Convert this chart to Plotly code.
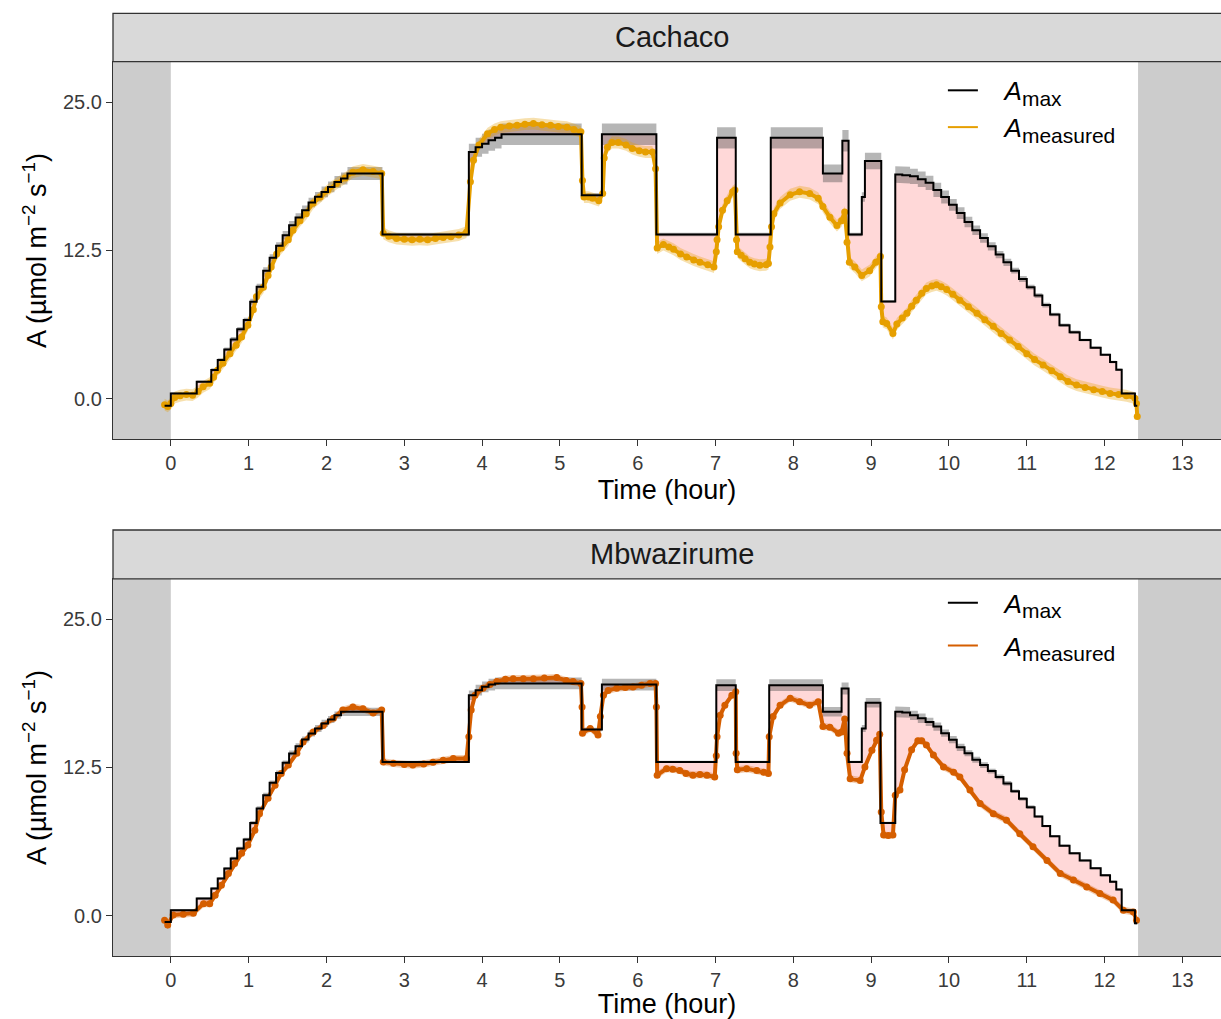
import plotly.graph_objects as go

# ---------------------------------------------------------------------------
# Cachaco: A_max as a step series (start time of each step, h), its spread,
# and the measured net assimilation A (µmol m-2 s-1)
# ---------------------------------------------------------------------------
cachaco_amax_t = [
    -0.08, 0.0, 0.333, 0.52, 0.603, 0.687, 0.77, 0.853, 0.937, 1.02,
    1.103, 1.187, 1.27, 1.353, 1.437, 1.52, 1.603, 1.687, 1.77, 1.853,
    1.937, 2.02, 2.103, 2.187, 2.27, 2.72, 3.83, 3.917, 4.0, 4.083,
    4.167, 4.25, 5.28, 5.54, 6.24, 7.02, 7.26, 7.71, 8.38, 8.63,
    8.71, 8.88, 8.92, 9.13, 9.31, 9.4, 9.5, 9.6, 9.7, 9.8,
    9.9, 10.0, 10.1, 10.2, 10.3, 10.4, 10.5, 10.6, 10.7, 10.8,
    10.9, 11.0, 11.1, 11.2, 11.3, 11.42, 11.55, 11.68, 11.82, 11.95,
    12.07, 12.15, 12.22, 12.39, 12.42,
]
cachaco_amax = [
    -0.6, 0.45, 1.43, 2.42, 3.26, 4.16, 5.0, 5.85, 6.63, 8.17,
    9.44, 10.78, 11.88, 12.89, 13.79, 14.63, 15.28, 15.89, 16.54, 17.02,
    17.44, 17.86, 18.28, 18.57, 18.99, 13.85, 20.8, 21.2, 21.5, 21.8,
    22.0, 22.3, 17.15, 22.3, 13.85, 22.0, 13.85, 22.0, 19.0, 21.75,
    13.85, 17.0, 20.05, 8.2, 18.9, 18.85, 18.75, 18.5, 18.2, 17.6,
    17.0, 16.35, 15.65, 14.9, 14.2, 13.55, 12.85, 12.15, 11.5, 10.8,
    10.1, 9.4, 8.7, 7.9, 7.1, 6.2, 5.6, 4.95, 4.3, 3.7,
    3.1, 2.45, 0.45, -0.6, -0.6,
]
cachaco_amax_sd = [
    0.1, 0.1, 0.1, 0.15, 0.15, 0.15, 0.2, 0.2, 0.2, 0.25,
    0.25, 0.3, 0.3, 0.3, 0.35, 0.35, 0.35, 0.4, 0.4, 0.4,
    0.45, 0.45, 0.5, 0.5, 0.55, 0.15, 0.7, 0.8, 0.85, 0.9,
    0.9, 0.9, 0.2, 0.9, 0.15, 0.9, 0.15, 0.9, 0.75, 0.9,
    0.15, 0.4, 0.7, 0.1, 0.7, 0.7, 0.65, 0.65, 0.6, 0.6,
    0.55, 0.5, 0.5, 0.45, 0.4, 0.4, 0.35, 0.3, 0.3, 0.25,
    0.25, 0.2, 0.2, 0.2, 0.15, 0.15, 0.15, 0.1, 0.1, 0.1,
    0.1, 0.1, 0.1, 0.1, 0.1,
]
cachaco_meas_t = [
    -0.08, -0.04, 0.0, 0.05, 0.12, 0.2, 0.28, 0.35, 0.415, 0.5,
    0.55, 0.6, 0.67, 0.76, 0.84, 0.91, 0.99, 1.06, 1.1, 1.19,
    1.25, 1.29, 1.36, 1.42, 1.51, 1.57, 1.66, 1.74, 1.83, 1.92,
    2.02, 2.13, 2.24, 2.34, 2.47, 2.6, 2.71, 2.73, 2.8, 2.9,
    3.0, 3.1, 3.2, 3.3, 3.4, 3.5, 3.6, 3.7, 3.8, 3.85,
    3.89, 3.96, 4.07, 4.16, 4.24, 4.35, 4.45, 4.55, 4.66, 4.77,
    4.88, 4.98, 5.09, 5.18, 5.27, 5.29, 5.31, 5.37, 5.42, 5.5,
    5.55, 5.57, 5.61, 5.67, 5.75, 5.85, 5.93, 6.02, 6.1, 6.19,
    6.23, 6.25, 6.33, 6.4, 6.46, 6.55, 6.63, 6.72, 6.8, 6.9,
    6.98, 7.01, 7.02, 7.04, 7.09, 7.15, 7.22, 7.25, 7.27, 7.28,
    7.33, 7.38, 7.44, 7.5, 7.57, 7.65, 7.68, 7.7, 7.72, 7.75,
    7.83, 7.96, 8.08, 8.21, 8.32, 8.38, 8.47, 8.56, 8.62, 8.66,
    8.69, 8.72, 8.79, 8.88, 8.98, 9.06, 9.12, 9.13, 9.15, 9.2,
    9.28, 9.33, 9.4, 9.46, 9.52, 9.58, 9.65, 9.71, 9.78, 9.84,
    9.9, 9.97, 10.05, 10.14, 10.25, 10.36, 10.46, 10.57, 10.67, 10.78,
    10.89, 11.0, 11.1, 11.21, 11.32, 11.43, 11.53, 11.64, 11.75, 11.86,
    11.97, 12.07, 12.18, 12.28, 12.39, 12.41, 12.42,
]
cachaco_meas = [
    -0.5, -0.65, -0.4, 0.1, 0.25, 0.35, 0.3, 0.6, 1.0, 1.3,
    1.8, 2.4, 3.0, 3.8, 4.5, 5.2, 6.2, 7.5, 8.6, 9.4,
    10.4, 11.1, 12.2, 12.7, 13.4, 14.2, 15.0, 15.6, 16.5, 17.0,
    17.6, 18.15, 18.6, 19.1, 19.3, 19.15, 19.0, 13.95, 13.7, 13.5,
    13.45, 13.4, 13.45, 13.4, 13.5, 13.6, 13.65, 13.8, 14.05, 18.3,
    20.1, 21.4, 22.35, 22.7, 22.9, 23.0, 23.05, 23.15, 23.2, 23.1,
    23.05, 22.95, 22.9, 22.7, 22.5, 18.4, 17.0, 17.0, 16.9, 16.7,
    17.3, 20.3, 21.2, 21.6, 21.6, 21.4, 21.1, 20.9, 20.8, 20.8,
    19.4, 12.7, 13.0, 12.8, 12.6, 12.2, 11.95, 11.7, 11.5, 11.3,
    11.1, 12.4, 13.4, 14.5, 15.9, 16.7, 17.45, 17.6, 13.4, 12.4,
    12.1, 11.8, 11.5, 11.35, 11.25, 11.3, 11.4, 12.8, 14.5, 15.6,
    16.5, 17.2, 17.45, 17.3, 16.9, 16.2, 15.3, 14.6, 15.0, 15.75,
    13.2, 11.5, 11.1, 10.4, 10.8, 11.5, 12.0, 7.75, 6.5, 6.35,
    5.5, 6.3, 6.8, 7.2, 7.8, 8.3, 8.9, 9.3, 9.5, 9.6,
    9.45, 9.2, 8.8, 8.3, 7.75, 7.2, 6.65, 6.1, 5.5, 4.95,
    4.4, 3.8, 3.3, 2.85, 2.35, 1.85, 1.45, 1.15, 0.95, 0.75,
    0.6, 0.45, 0.35, 0.25, 0.05, -0.4, -1.5,
]
cachaco_meas_sd = 0.5

# ---------------------------------------------------------------------------
# Mbwazirume
# ---------------------------------------------------------------------------
mbwazirume_amax_t = [
    -0.08, 0.0, 0.333, 0.52, 0.603, 0.687, 0.77, 0.853, 0.937, 1.02,
    1.103, 1.187, 1.27, 1.353, 1.437, 1.52, 1.603, 1.687, 1.77, 1.853,
    1.937, 2.02, 2.103, 2.187, 2.72, 3.83, 3.917, 4.0, 4.083, 4.167,
    5.28, 5.54, 6.24, 7.01, 7.26, 7.69, 8.38, 8.62, 8.71, 8.88,
    8.93, 9.12, 9.31, 9.4, 9.5, 9.6, 9.7, 9.8, 9.9, 10.0,
    10.1, 10.2, 10.3, 10.4, 10.5, 10.6, 10.7, 10.8, 10.9, 11.0,
    11.1, 11.2, 11.3, 11.42, 11.55, 11.68, 11.82, 11.95, 12.07, 12.15,
    12.22, 12.39, 12.42,
]
mbwazirume_amax = [
    -0.55, 0.45, 1.44, 2.28, 3.12, 3.97, 4.81, 5.66, 6.42, 7.82,
    9.03, 10.16, 11.2, 12.04, 12.89, 13.68, 14.3, 14.86, 15.37, 15.79,
    16.22, 16.55, 16.92, 17.2, 12.97, 18.6, 19.03, 19.31, 19.5, 19.6,
    15.71, 19.5, 12.97, 19.45, 12.97, 19.45, 17.2, 19.17, 12.97, 15.79,
    17.96, 7.82, 17.2, 17.15, 16.9, 16.65, 16.35, 15.95, 15.4, 14.85,
    14.2, 13.7, 13.15, 12.7, 12.2, 11.7, 11.15, 10.5, 9.85, 9.15,
    8.35, 7.55, 6.7, 5.9, 5.25, 4.65, 4.0, 3.4, 2.85, 2.2,
    0.45, -0.65, -0.65,
]
mbwazirume_amax_sd = [
    0.1, 0.1, 0.1, 0.1, 0.1, 0.1, 0.15, 0.15, 0.15, 0.15,
    0.2, 0.2, 0.2, 0.2, 0.2, 0.25, 0.25, 0.25, 0.25, 0.3,
    0.3, 0.3, 0.3, 0.35, 0.1, 0.4, 0.45, 0.45, 0.5, 0.5,
    0.15, 0.5, 0.1, 0.5, 0.1, 0.5, 0.4, 0.5, 0.1, 0.3,
    0.4, 0.1, 0.45, 0.45, 0.4, 0.4, 0.35, 0.35, 0.3, 0.3,
    0.3, 0.25, 0.25, 0.25, 0.2, 0.2, 0.2, 0.15, 0.15, 0.15,
    0.1, 0.1, 0.1, 0.1, 0.1, 0.1, 0.1, 0.1, 0.1, 0.1,
    0.1, 0.1, 0.1,
]
mbwazirume_meas_t = [
    -0.08, -0.04, 0.03, 0.16, 0.29, 0.42, 0.5, 0.57, 0.65, 0.74,
    0.82, 0.91, 0.99, 1.08, 1.14, 1.25, 1.34, 1.42, 1.51, 1.62,
    1.7, 1.83, 1.96, 2.09, 2.21, 2.34, 2.47, 2.6, 2.71, 2.73,
    2.86, 3.0, 3.11, 3.25, 3.37, 3.5, 3.63, 3.8, 3.83, 3.86,
    3.91, 4.01, 4.1, 4.19, 4.3, 4.4, 4.53, 4.66, 4.8, 4.96,
    5.08, 5.17, 5.27, 5.285, 5.29, 5.39, 5.49, 5.52, 5.56, 5.62,
    5.73, 5.84, 5.94, 6.05, 6.16, 6.23, 6.24, 6.25, 6.37, 6.45,
    6.54, 6.62, 6.71, 6.8, 6.89, 6.99, 7.01, 7.02, 7.06, 7.12,
    7.21, 7.26, 7.265, 7.28, 7.4, 7.53, 7.62, 7.68, 7.69, 7.74,
    7.83, 7.96, 8.08, 8.21, 8.32, 8.38, 8.47, 8.58, 8.62, 8.66,
    8.69, 8.73, 8.86, 8.92, 9.01, 9.07, 9.11, 9.13, 9.16, 9.22,
    9.28, 9.31, 9.37, 9.43, 9.52, 9.6, 9.65, 9.71, 9.8, 9.93,
    10.06, 10.14, 10.27, 10.4, 10.57, 10.74, 10.91, 11.08, 11.26, 11.43,
    11.6, 11.77, 11.94, 12.11, 12.24, 12.37, 12.41,
]
mbwazirume_meas = [
    -0.4, -0.8, 0.05, 0.1, 0.2, 1.0, 1.0, 1.7, 2.55, 3.55,
    4.4, 5.25, 5.95, 7.2, 8.6, 9.9, 11.0, 12.0, 12.7, 13.7,
    14.65, 15.5, 16.05, 16.65, 17.35, 17.6, 17.45, 17.1, 17.35, 12.97,
    12.85, 12.75, 12.7, 12.8, 12.95, 13.1, 13.25, 13.25, 15.1, 17.35,
    18.6, 19.2, 19.5, 19.75, 19.95, 20.0, 20.0, 20.0, 20.05, 20.1,
    19.85, 19.75, 19.6, 17.6, 15.4, 15.8, 15.25, 16.8, 18.6, 19.0,
    19.2, 19.25, 19.3, 19.45, 19.6, 19.6, 17.6, 11.85, 12.4, 12.35,
    12.25, 12.0, 11.85, 11.9, 11.85, 11.7, 13.5, 15.1, 16.9, 17.75,
    18.6, 18.9, 13.7, 12.3, 12.4, 12.25, 12.1, 12.0, 15.1, 16.8,
    17.75, 18.35, 18.05, 17.75, 18.05, 15.95, 15.9, 15.4, 15.5, 16.6,
    13.7, 11.55, 11.4, 12.55, 13.95, 14.8, 15.3, 8.75, 6.8, 6.75,
    6.8, 10.15, 10.6, 12.3, 14.0, 14.75, 14.75, 14.4, 13.55, 12.55,
    12.1, 11.7, 10.6, 9.45, 8.6, 8.05, 6.9, 5.8, 4.65, 3.55,
    3.0, 2.4, 1.85, 1.3, 0.45, 0.3, -0.4,
]
mbwazirume_meas_sd = 0.3

# Panel labels and per-panel measured colours
panel_names = ["Cachaco", "Mbwazirume"]
panel_colors = ["#E69F00", "#D55E00"]
panel_ribbons = ["rgba(230,159,0,0.32)", "rgba(213,94,0,0.30)"]

x_ticks = list(range(0, 14))
y_ticks = [0.0, 12.5, 25.0]
y_ticktext = ["0.0", "12.5", "25.0"]

# Night (lights off) periods before the start and after the end of the run
dark_before_end = 0.0
dark_after_start = 12.43

FONT = "Liberation Sans, Arial, Helvetica, sans-serif"
X_RANGE = [-0.743, 13.496]
Y_RANGE = [-3.42, 28.42]
PANEL_DOMAINS = [[0.5405, 0.9355], [0.0, 0.3944]]
STRIP_BOXES = [[0.9355, 0.9861], [0.3944, 0.4456]]
LEGEND_PAD = "&nbsp;&nbsp;&nbsp;"


def legend_label(sub):
    """Italic A with a subscript that stays close to full size."""
    return (LEGEND_PAD + "<i>A</i><sub><span style='font-size:21px'>"
            + sub + "</span></sub>")


def step_path(t, v):
    """Expand a step series (value held until the next start time)."""
    xs, ys = [], []
    for i in range(len(t)):
        xs.append(t[i])
        ys.append(v[i])
        if i + 1 < len(t):
            xs.append(t[i + 1])
            ys.append(v[i])
    return xs, ys


panels = [
    (cachaco_amax_t, cachaco_amax, cachaco_amax_sd,
     cachaco_meas_t, cachaco_meas, cachaco_meas_sd),
    (mbwazirume_amax_t, mbwazirume_amax, mbwazirume_amax_sd,
     mbwazirume_meas_t, mbwazirume_meas, mbwazirume_meas_sd),
]

fig = go.Figure()
shapes = []
annotations = []

for k, (at, av, asd, mt, mv, msd) in enumerate(panels):
    xa = "x" if k == 0 else "x2"
    ya = "y" if k == 0 else "y2"
    leg = "legend" if k == 0 else "legend2"
    col = panel_colors[k]

    # gap between A_max and measured A
    sx, sy = step_path(at, av)
    fig.add_trace(go.Scatter(
        x=sx + mt[::-1], y=sy + mv[::-1], xaxis=xa, yaxis=ya,
        mode="lines", fill="toself", fillcolor="rgba(255,60,60,0.2)",
        line=dict(width=0), hoverinfo="skip", showlegend=False))

    # A_max spread
    lo_x, lo_y = step_path(at, [v - s for v, s in zip(av, asd)])
    hi_x, hi_y = step_path(at, [v + s for v, s in zip(av, asd)])
    fig.add_trace(go.Scatter(
        x=lo_x, y=lo_y, xaxis=xa, yaxis=ya, mode="lines",
        line=dict(width=0), hoverinfo="skip", showlegend=False))
    fig.add_trace(go.Scatter(
        x=hi_x, y=hi_y, xaxis=xa, yaxis=ya, mode="lines",
        fill="tonexty", fillcolor="rgba(80,80,80,0.42)",
        line=dict(width=0), hoverinfo="skip", showlegend=False))

    # measured A ribbon
    fig.add_trace(go.Scatter(
        x=mt, y=[v - msd for v in mv], xaxis=xa, yaxis=ya, mode="lines",
        line=dict(width=0), hoverinfo="skip", showlegend=False))
    fig.add_trace(go.Scatter(
        x=mt, y=[v + msd for v in mv], xaxis=xa, yaxis=ya, mode="lines",
        fill="tonexty", fillcolor=panel_ribbons[k],
        line=dict(width=0), hoverinfo="skip", showlegend=False))

    # measured A
    fig.add_trace(go.Scatter(
        x=mt, y=mv, xaxis=xa, yaxis=ya, mode="lines+markers",
        line=dict(color=col, width=4),
        marker=dict(color=col, size=7),
        showlegend=False))

    # A_max
    fig.add_trace(go.Scatter(
        x=at, y=av, xaxis=xa, yaxis=ya, mode="lines",
        line=dict(color="black", width=2, shape="hv"),
        showlegend=False))

    # legend entries
    fig.add_trace(go.Scatter(
        x=[None], y=[None], xaxis=xa, yaxis=ya, mode="lines",
        line=dict(color="black", width=2),
        name=legend_label("max"), legend=leg, legendgroup=f"a{k}"))
    fig.add_trace(go.Scatter(
        x=[None], y=[None], xaxis=xa, yaxis=ya, mode="lines",
        line=dict(color=col, width=2),
        name=legend_label("measured"), legend=leg, legendgroup=f"m{k}"))

    # night shading
    for x0, x1 in [(X_RANGE[0], dark_before_end), (dark_after_start, X_RANGE[1])]:
        shapes.append(dict(
            type="rect", xref=xa, yref=f"{ya} domain", x0=x0, x1=x1,
            y0=0, y1=1, fillcolor="#CCCCCC", line=dict(width=0),
            layer="below"))

    # facet strip
    y0, y1 = STRIP_BOXES[k]
    shapes.append(dict(
        type="rect", xref="paper", yref="paper", x0=0, x1=1.002,
        y0=y0, y1=y1, fillcolor="#D9D9D9",
        line=dict(color="#333333", width=1.3)))
    annotations.append(dict(
        text=panel_names[k], xref="paper", yref="paper",
        x=0.5045, y=(y0 + y1) / 2, xanchor="center", yanchor="middle",
        showarrow=False, font=dict(family=FONT, size=29, color="#1A1A1A")))

axis_common = dict(
    showline=True, mirror=True, linecolor="#333333", linewidth=1.3,
    showgrid=False, zeroline=False, ticks="outside", ticklen=6,
    tickcolor="#333333", tickwidth=1.2,
    tickfont=dict(family=FONT, size=20, color="#3A3A3A"),
)

layout_axes = {}
for k in range(2):
    sfx = "" if k == 0 else "2"
    layout_axes[f"xaxis{sfx}"] = dict(
        axis_common, domain=[0, 1], range=X_RANGE, anchor=f"y{sfx}",
        tickmode="array", tickvals=x_ticks,
        title=dict(text="Time (hour)", standoff=6,
                   font=dict(family=FONT, size=27, color="black")))
    layout_axes[f"yaxis{sfx}"] = dict(
        axis_common, domain=PANEL_DOMAINS[k], range=Y_RANGE,
        anchor=f"x{sfx}", tickmode="array", tickvals=y_ticks,
        ticktext=y_ticktext,
        title=dict(text="A (µmol m<sup>−2</sup> s<sup>−1</sup>)", standoff=8,
                   font=dict(family=FONT, size=27, color="black")))

legend_common = dict(
    xanchor="left", yanchor="top", bgcolor="rgba(0,0,0,0)",
    font=dict(family=FONT, size=26, color="black"),
    itemwidth=30, itemclick=False, itemdoubleclick=False,
)

fig.update_layout(
    width=1221, height=1019,
    margin=dict(l=113, r=0, t=0, b=63),
    paper_bgcolor="white", plot_bgcolor="white",
    font=dict(family=FONT),
    shapes=shapes, annotations=annotations,
    legend=dict(legend_common, x=0.749, y=0.930, tracegroupgap=0),
    legend2=dict(legend_common, x=0.749, y=0.394, tracegroupgap=6),
    **layout_axes,
)

fig.write_html("out.html")
